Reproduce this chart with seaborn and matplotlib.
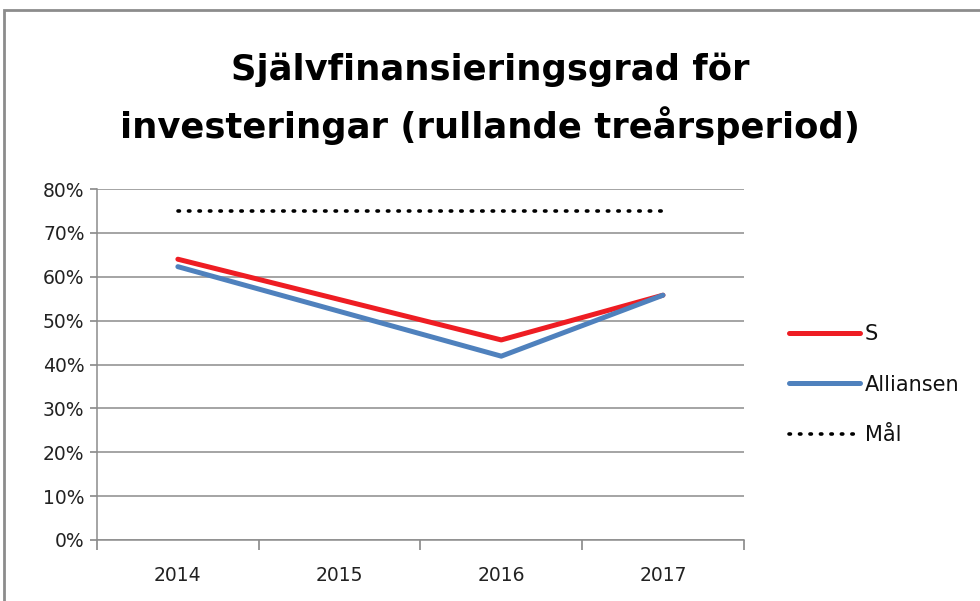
import matplotlib.pyplot as plt
import matplotlib.patches as mpatches
import pandas as pd
import seaborn as sns
from matplotlib.ticker import FuncFormatter

# --- Data ---
years = ['2014', '2015', '2016', '2017']
s_values = [0.640, 0.548, 0.456, 0.558]
alliansen_values = [0.623, 0.521, 0.419, 0.558]
mal_values = [0.75, 0.75, 0.75, 0.75]

title_lines = ['Självfinansieringsgrad för', 'investeringar (rullande treårsperiod)']

sns.set_theme(style="white")
plt.rcParams['font.family'] = ['DejaVu Sans']

df = pd.DataFrame({'pos': range(len(years)), 'S': s_values,
                   'Alliansen': alliansen_values, 'Mål': mal_values})

fig = plt.figure(figsize=(9.8, 6.01), dpi=100)
ax = fig.add_axes([0.099, 0.1015, 0.66, 0.584])

sns.lineplot(data=df, x='pos', y='S', ax=ax, color='#EE1D23', linewidth=3.6, label='S')
sns.lineplot(data=df, x='pos', y='Alliansen', ax=ax, color='#4F81BD', linewidth=3.6, label='Alliansen')
sns.lineplot(data=df, x='pos', y='Mål', ax=ax, color='black', linewidth=2.6,
             linestyle=(0, (0.4, 2.5)), dash_capstyle='round', label='Mål')

ax.set_xlim(-0.5, len(years) - 0.5)
ax.set_ylim(0, 0.8)
ax.set_yticks([i / 10 for i in range(9)])
ax.yaxis.set_major_formatter(FuncFormatter(lambda y, _: f'{int(round(y * 100))}%'))
ax.set_xticks([i - 0.5 for i in range(len(years) + 1)])
ax.set_xticklabels([])
ax.set_xticks(range(len(years)), minor=True)
ax.set_xticklabels(years, minor=True)
ax.tick_params(axis='x', which='minor', length=0, pad=19, labelsize=13.5, labelcolor='#222222')
ax.tick_params(axis='x', which='major', length=7, color='#8c8c8c', direction='out', bottom=True)
ax.tick_params(axis='y', length=5, color='#8c8c8c', direction='out', left=True,
               labelsize=13.5, pad=4, labelcolor='#222222')
ax.grid(axis='y', color='#8c8c8c', linewidth=1.1)
ax.set_axisbelow(True)
ax.set_xlabel('')
ax.set_ylabel('')
for side in ['top', 'right']:
    ax.spines[side].set_visible(False)
for side in ['left', 'bottom']:
    ax.spines[side].set_color('#8c8c8c')
    ax.spines[side].set_linewidth(1.1)

handles, labels = ax.get_legend_handles_labels()
ax.get_legend().remove()
fig.legend(handles, labels, loc='center left', bbox_to_anchor=(0.786, 0.36),
           frameon=False, fontsize=15, handlelength=3.4, handletextpad=0.25,
           labelspacing=1.45, labelcolor='#111111')

fig.text(0.5, 1 - 70 / 601, title_lines[0], ha='center', va='center',
         fontsize=25.5, fontweight='bold', color='black')
fig.text(0.5, 1 - 126 / 601, title_lines[1], ha='center', va='center',
         fontsize=25.5, fontweight='bold', color='black')

fig.patches.append(mpatches.Rectangle((4 / 980, -0.01), 1.0, 1 - 10 / 601 + 0.01,
                                      transform=fig.transFigure, fill=False,
                                      edgecolor='#8c8c8c', linewidth=2))

plt.savefig('out.png', dpi=100)
